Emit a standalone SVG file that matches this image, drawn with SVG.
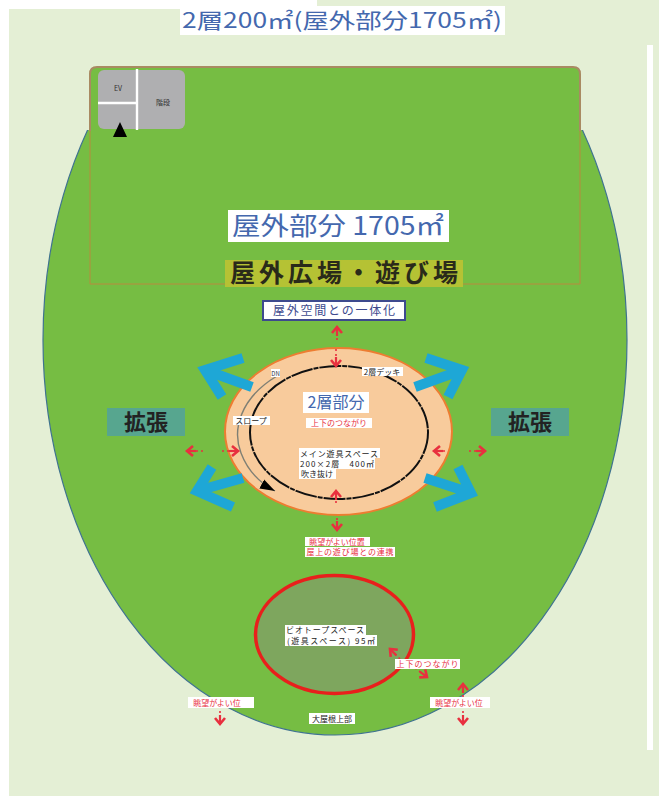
<svg xmlns="http://www.w3.org/2000/svg" width="664" height="796" viewBox="0 0 664 796">
<style>
text{font-family:"Noto Sans CJK JP","Liberation Sans",sans-serif;text-anchor:middle}
.lab{fill:#fff}
.k{font-size:8px;fill:#222}
.r{font-size:8px;fill:#e8303f}
.blue{fill:none;stroke:#1ea7d6;stroke-width:10;stroke-miterlimit:6}
.red{fill:none;stroke:#e8303f;stroke-width:1.6;stroke-dasharray:2 3;marker-end:url(#rh)}
.ttl{fill:#4468ae}
</style>
<defs>
<marker id="rh" markerUnits="userSpaceOnUse" markerWidth="16" markerHeight="16" refX="13" refY="8" orient="auto">
<path d="M7 3L13 8L7 13" fill="none" stroke="#e8303f" stroke-width="2.6"/><path d="M4 8H12" stroke="#e8303f" stroke-width="2.2"/>
</marker>
<marker id="bk" markerUnits="userSpaceOnUse" markerWidth="16" markerHeight="12" refX="15" refY="6" orient="auto">
<path d="M0 1L15 6L0 11Z" fill="#000"/>
</marker>
<clipPath id="below"><rect x="0" y="130" width="664" height="666"/></clipPath>
</defs>
<rect width="664" height="796" fill="#fff"/>
<rect id="page" x="9" y="9" width="650" height="787" fill="#e4efd5"/>
<rect x="317" y="0" width="342" height="10" fill="#e4efd5"/>
<rect x="647" y="45" width="6" height="705" fill="#fff"/>
<g id="site">
<ellipse cx="335" cy="340" rx="292" ry="395" fill="#76bd43" stroke="#3f7390" stroke-width="1.2" clip-path="url(#below)"/>
<path d="M90 132V74Q90 67 97 67H573Q580 67 580 74V132Z" fill="#76bd43"/>
<path d="M90 131V74Q90 67 97 67H573Q580 67 580 74V131" fill="none" stroke="#a98a62" stroke-width="2"/>
<path d="M90 131V284H580V131" fill="none" stroke="#b98a3e" stroke-width="1"/>
</g>
<g id="title"><rect x="180" y="6" width="325" height="29" class="lab"/><text x="342" y="28" font-size="21" class="ttl" textLength="320" lengthAdjust="spacingAndGlyphs">2層200㎡(屋外部分1705㎡)</text></g>
<g id="core">
<rect x="98" y="70" width="87" height="59" rx="6" fill="#afafb1"/>
<path d="M137 69V130M98 103H137" stroke="#fff" stroke-width="2.4" fill="none"/>
<text x="118" y="91" font-size="7" fill="#333">EV</text>
<text x="163" y="105" font-size="7" fill="#333">階段</text>
<path d="M120 122L113 137H127Z" fill="#000"/>
</g>
<g id="outdoor-area"><rect x="228" y="210" width="221" height="32" class="lab"/><text x="338" y="235" font-size="25" class="ttl" textLength="212" lengthAdjust="spacingAndGlyphs">屋外部分 1705㎡</text></g>
<g id="outdoor-plaza"><rect x="225" y="260" width="238" height="27" fill="#b5c234"/><text x="344" y="282" font-size="25" font-weight="700" fill="#2a2a1a" textLength="228" lengthAdjust="spacing">屋外広場・遊び場</text></g>
<g id="integration"><rect x="263" y="301" width="142" height="19" fill="#fff" stroke="#3d4a8e" stroke-width="2"/><text x="334" y="315" font-size="12" fill="#3d4a8e" textLength="122" lengthAdjust="spacing">屋外空間との一体化</text></g>
<g id="expand-left"><rect x="107" y="408" width="78" height="28" fill="#57a68f"/><text x="146" y="430" font-size="22" font-weight="700" fill="#222">拡張</text></g>
<g id="expand-right"><rect x="491" y="408" width="78" height="28" fill="#57a68f"/><text x="530" y="430" font-size="22" font-weight="700" fill="#222">拡張</text></g>
<g id="second-floor">
<ellipse cx="338.5" cy="431.5" rx="113.5" ry="83.5" fill="#f8cb9c" stroke="#ed7d31" stroke-width="2"/>
<ellipse cx="339" cy="432.5" rx="89" ry="66.5" fill="none" stroke="#111" stroke-width="2" stroke-dasharray="22 1 5 1"/>
</g>
<g id="bio">
<ellipse cx="334.5" cy="634.5" rx="79" ry="59" fill="#7ea65e" stroke="#e8201c" stroke-width="3.5"/>
</g>
<g id="connectors">
<path class="blue" d="M252 387L205 370M243 358L205 370L222 397"/>
<path class="blue" d="M415 387L462 370M426 358L462 370L448 397"/>
<path class="blue" d="M243 478L197 491M212 467L197 491L233 507"/>
<path class="blue" d="M425 478L471 493M458 467L471 493L435 507"/>
<path d="M277 376C240 398 232 430 241 453C247 469 258 482 275 491" fill="none" stroke="#7f7f74" stroke-width="1.4" marker-end="url(#bk)"/>
<path class="red" d="M337 340V327"/>
<path class="red" d="M336 349V366"/>
<path class="red" d="M336 503V491"/>
<path class="red" d="M337 518V530"/>
<path class="red" d="M203 451H187"/>
<path class="red" d="M222 451H238"/>
<path class="red" d="M445 451H434"/>
<path class="red" d="M469 451H485"/>
<path class="red" d="M400 659L390 649"/>
<path class="red" d="M415 668L427 677"/>
<path class="red" d="M220 711V724"/>
<path class="red" d="M463 711V724"/>
<path class="red" d="M463 697V684"/>
</g>
<g id="label-2f"><rect x="303" y="392" width="66" height="21" class="lab"/><text x="336" y="408" font-size="16" class="ttl">2層部分</text></g>
<g id="label-updown1"><rect x="306" y="418" width="66" height="10" class="lab"/><text x="339" y="426" class="r">上下のつながり</text></g>
<g id="label-deck"><rect x="362" y="367" width="41" height="9" class="lab"/><text x="382" y="375" class="k">2層デッキ</text></g>
<g id="label-dn"><rect x="271" y="369" width="9" height="8" class="lab"/><text x="275.500" y="375.500" font-size="6" fill="#334">DN</text></g>
<g id="label-slope"><rect x="233" y="416" width="37" height="9" class="lab"/><text x="251" y="424" class="k">スロープ</text></g>
<g id="label-main">
<rect x="299" y="448" width="81" height="10" class="lab"/><rect x="299" y="458" width="76" height="11" class="lab"/><rect x="299" y="469" width="37" height="10" class="lab"/>
<text x="339" y="456.500" class="k" textLength="78" lengthAdjust="spacing">メイン遊具スペース</text>
<text x="337" y="467" class="k" textLength="74" lengthAdjust="spacing">200×2層　400㎡</text>
<text x="317" y="477" class="k">吹き抜け</text>
</g>
<g id="label-view1">
<rect x="305" y="537" width="65" height="9" class="lab"/><rect x="305" y="547" width="90" height="10" class="lab"/>
<text x="337" y="545" class="r">眺望がよい位置</text>
<text x="350" y="555" class="r" textLength="87" lengthAdjust="spacing">屋上の遊び場との連携</text>
</g>
<g id="label-bio">
<rect x="285" y="625" width="81" height="10" class="lab"/><rect x="285" y="635" width="92" height="11" class="lab"/>
<text x="325" y="633" class="k" textLength="78" lengthAdjust="spacing">ビオトープスペース</text>
<text x="331" y="644" class="k" textLength="88" lengthAdjust="spacing">(遊具スペース) 95㎡</text>
</g>
<g id="label-updown2"><rect x="395" y="659" width="65" height="10" class="lab"/><text x="427.500" y="667" class="r" textLength="62" lengthAdjust="spacing">上下のつながり</text></g>
<g id="label-view2"><rect x="188" y="697" width="66" height="11" class="lab"/><text x="217" y="705.500" class="r">眺望がよい位</text></g>
<g id="label-view3"><rect x="430" y="697" width="60" height="11" class="lab"/><text x="459" y="705.500" class="r">眺望がよい位</text></g>
<g id="label-roof"><rect x="309" y="713" width="46" height="11" class="lab"/><text x="332" y="721.500" class="k">大屋根上部</text></g>
</svg>
